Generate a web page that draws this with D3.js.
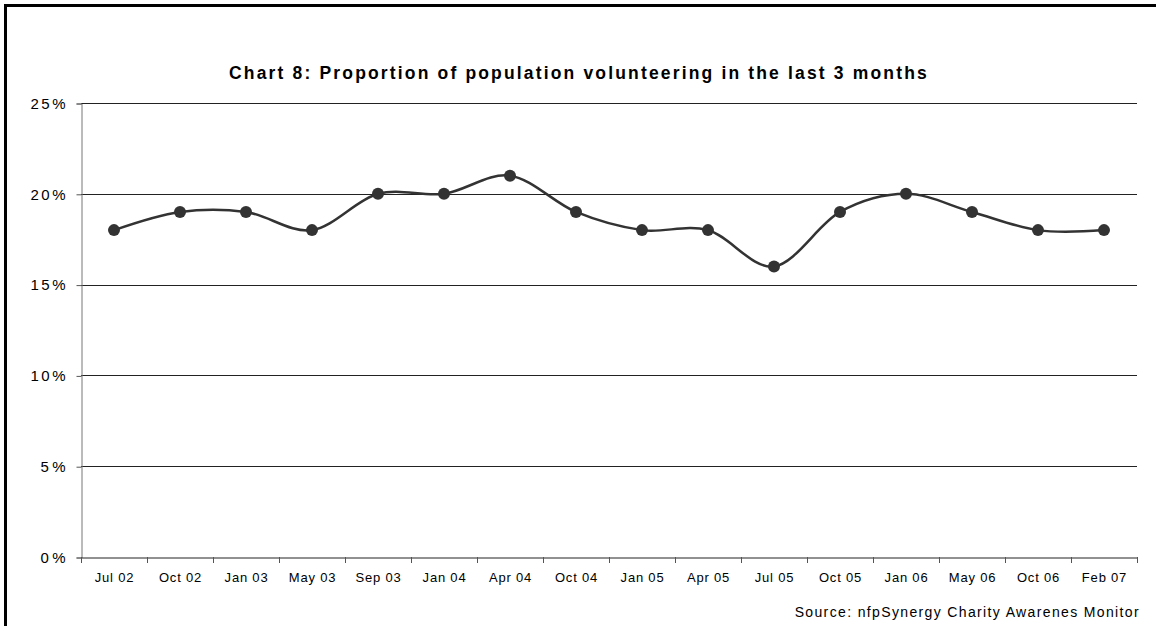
<!DOCTYPE html>
<html><head><meta charset="utf-8">
<script src="https://cdn.jsdelivr.net/npm/d3@7"></script>
<style>
html,body{margin:0;padding:0;background:#fff;}
svg{display:block;}
text{font-family:"Liberation Sans",Arial,sans-serif;fill:#000;}
</style></head>
<body>
<svg id="c" width="1156" height="626"></svg>
<script>
const categories = ["Jul 02","Oct 02","Jan 03","May 03","Sep 03","Jan 04","Apr 04","Oct 04","Jan 05","Apr 05","Jul 05","Oct 05","Jan 06","May 06","Oct 06","Feb 07"];
const values = [18,19,19,18,20,20,21,19,18,18,16,19,20,19,18,18];
const yTicks = [0,5,10,15,20,25];
const title = "Chart 8: Proportion of population volunteering in the last 3 months";
const source = "Source: nfpSynergy Charity Awarenes Monitor";

const svg = d3.select("#c");
const m = {left:81, right:1137, top:103, bottom:557};

// fit text to a target width through letter-spacing
function fit(sel, target){
  sel.each(function(){
    const n = this.textContent.length;
    const w = this.getComputedTextLength();
    const ls = Math.max(0,(target - w)/Math.max(1,n-1));
    d3.select(this).attr("letter-spacing", ls.toFixed(2)+"px");
  });
}

// frame (top and left edges visible)
svg.append("line").attr("x1",4).attr("x2",1156).attr("y1",5.5).attr("y2",5.5).attr("stroke","#000").attr("stroke-width",3);
svg.append("line").attr("x1",5.5).attr("x2",5.5).attr("y1",4).attr("y2",626).attr("stroke","#000").attr("stroke-width",3);

const x = d3.scaleBand().domain(categories).range([m.left,m.right]).padding(0);
const y = d3.scaleLinear().domain([0,25]).range([m.bottom,m.top]);

// gridlines
svg.append("g").selectAll("line").data(yTicks.filter(d=>d>0)).join("line")
  .attr("x1",m.left).attr("x2",m.right)
  .attr("y1",d=>Math.round(y(d))+0.5).attr("y2",d=>Math.round(y(d))+0.5)
  .attr("stroke","#222").attr("stroke-width",1);

// y axis
const ya = svg.append("g").attr("transform",`translate(${m.left+0.5},0.5)`)
  .call(d3.axisLeft(y).tickValues(yTicks).tickSize(5).tickPadding(11).tickFormat(d=>d+"%"));
ya.select(".domain").attr("stroke","#777");
ya.selectAll(".tick line").attr("stroke","#555");
ya.selectAll("text").attr("font-size",15).attr("fill","#000")
  .attr("font-family","'Liberation Sans',Arial,sans-serif");
ya.selectAll("text").each(function(d){
  const w = this.getComputedTextLength();
  const n = this.textContent.length;
  const target = String(d).length===1 ? 25 : 35;
  const ls = Math.max(0,(target-w)/(n-1));
  d3.select(this).attr("letter-spacing",ls.toFixed(2)+"px").attr("dx", ls.toFixed(2));
});

// x axis
const xa = svg.append("g").attr("transform",`translate(0.5,${m.bottom+0.5})`)
  .call(d3.axisBottom(x).tickSize(0).tickPadding(15));
xa.select(".domain").attr("stroke","#222");
xa.selectAll("text").attr("font-size",13).attr("letter-spacing","0.8px").attr("fill","#000")
  .attr("font-family","'Liberation Sans',Arial,sans-serif");
// band boundary ticks
const bounds = categories.map(c=>x(c)).concat([m.right]);
svg.append("g").selectAll("line").data(bounds).join("line")
  .attr("x1",d=>Math.round(d)+0.5).attr("x2",d=>Math.round(d)+0.5)
  .attr("y1",m.bottom).attr("y2",m.bottom+6)
  .attr("stroke","#555").attr("stroke-width",1);

// line
const cx = c=>x(c)+x.bandwidth()/2;
const line = d3.line().x((d,i)=>cx(categories[i])).y(d=>y(d)).curve(d3.curveCardinal.tension(0));
svg.append("path").datum(values).attr("d",line)
  .attr("fill","none").attr("stroke","#333").attr("stroke-width",2.5);
svg.append("g").selectAll("circle").data(values).join("circle")
  .attr("cx",(d,i)=>cx(categories[i])).attr("cy",d=>y(d)).attr("r",6).attr("fill","#333");

// title
const tt = svg.append("text").attr("x",579).attr("y",79).attr("text-anchor","middle")
  .attr("font-size",17.5).attr("font-weight","bold").text(title);
fit(tt, 698);
// source
const st = svg.append("text").attr("x",1140).attr("y",617).attr("text-anchor","end")
  .attr("font-size",14).text(source);
fit(st, 344);
</script>
</body></html>
